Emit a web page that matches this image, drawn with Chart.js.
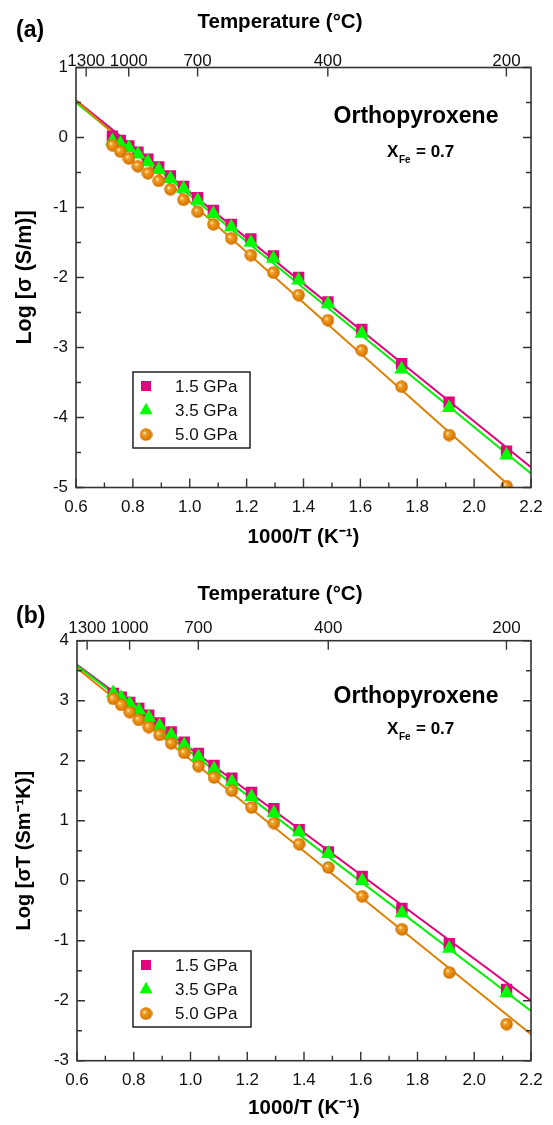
<!DOCTYPE html>
<html>
<head>
<meta charset="utf-8">
<script src="https://cdn.jsdelivr.net/npm/chart.js@4.4.1/dist/chart.umd.min.js"></script>
<style>
  html, body { margin: 0; padding: 0; background: #fff; }
  canvas { position: absolute; left: 0; }
</style>
</head>
<body>
<canvas id="panelA" width="553" height="560" style="top:0"></canvas>
<canvas id="panelB" width="553" height="565" style="top:560px"></canvas>
<script>
// 1000/T (K^-1) of the measurements
const invT = [0.728, 0.756, 0.786, 0.818, 0.853, 0.891, 0.932, 0.978, 1.028, 1.083,
              1.146, 1.215, 1.294, 1.383, 1.486, 1.605, 1.745, 1.912, 2.114];
const tempTicks = [1300, 1000, 700, 400, 200];
const pressures = ['1.5 GPa', '3.5 GPa', '5.0 GPa'];

// panel (a): log sigma
const logS_15 = [0.02, -0.04, -0.12, -0.21, -0.31, -0.42, -0.55, -0.70, -0.86, -1.04,
                 -1.24, -1.45, -1.69, -2.00, -2.35, -2.74, -3.23, -3.78, -4.48];
const logS_35 = [-0.05, -0.09, -0.15, -0.24, -0.35, -0.46, -0.59, -0.73, -0.90, -1.09,
                 -1.28, -1.50, -1.73, -2.04, -2.38, -2.80, -3.31, -3.86, -4.54];
const logS_50 = [-0.11, -0.20, -0.30, -0.41, -0.51, -0.62, -0.74, -0.89, -1.06, -1.24,
                 -1.44, -1.68, -1.93, -2.25, -2.61, -3.04, -3.56, -4.25, -4.98];

// panel (b): log sigmaT
const logST_15 = [3.12, 3.06, 2.97, 2.87, 2.76, 2.63, 2.48, 2.31, 2.12, 1.92,
                  1.71, 1.47, 1.20, 0.85, 0.48, 0.07, -0.46, -1.05, -1.81];
const logST_35 = [3.13, 3.05, 2.95, 2.84, 2.72, 2.58, 2.43, 2.26, 2.06, 1.86,
                  1.65, 1.40, 1.13, 0.81, 0.45, 0.00, -0.54, -1.13, -1.87];
const logST_50 = [3.03, 2.93, 2.81, 2.68, 2.56, 2.43, 2.29, 2.13, 1.91, 1.72,
                  1.50, 1.22, 0.96, 0.61, 0.22, -0.26, -0.81, -1.53, -2.39];

// fitted lines, ends at 1000/T = 0.6 and 2.2
const fitX = [0.6, 2.2];
const fitA_15 = [0.53, -4.71];
const fitA_35 = [0.50, -4.80];
const fitA_50 = [0.53, -5.25];
const fitB_15 = [3.60, -2.00];
const fitB_35 = [3.58, -2.17];
const fitB_50 = [3.54, -2.56];

const PINK = '#e4007f';
const GREEN = '#00f000';
const GREEN_PT = '#00ff00';
const ORANGE = '#e08000';
const FONT = '"Liberation Sans", Arial, sans-serif';

function makeSphere(d) {
  const c = document.createElement('canvas');
  c.width = c.height = d;
  const g = c.getContext('2d');
  const r = d / 2;
  const grad = g.createRadialGradient(r * 0.72, r * 0.72, 0.4, r, r, r);
  grad.addColorStop(0, '#fff4c0');
  grad.addColorStop(0.22, '#f0a232');
  grad.addColorStop(0.7, '#e38000');
  grad.addColorStop(1, '#c46800');
  g.fillStyle = grad;
  g.beginPath();
  g.arc(r, r, r - 0.3, 0, Math.PI * 2);
  g.fill();
  return c;
}
const sphere = makeSphere(13);

function pts(ys) { return invT.map((x, i) => ({ x: x, y: ys[i] })); }
function fit(ys) { return fitX.map((x, i) => ({ x: x, y: ys[i] })); }

function drawMarker(ctx, kind, x, y) {
  if (kind === 0) {
    ctx.fillStyle = PINK;
    ctx.fillRect(x - 5, y - 5, 10, 10);
  } else if (kind === 1) {
    ctx.fillStyle = GREEN_PT;
    ctx.beginPath();
    ctx.moveTo(x, y - 7.5);
    ctx.lineTo(x + 6.5, y + 4);
    ctx.lineTo(x - 6.5, y + 4);
    ctx.closePath();
    ctx.fill();
  } else {
    ctx.drawImage(sphere, x - 6.5, y - 6.5);
  }
}

// frame, inward ticks, annotations and legend
const decor = {
  id: 'decor',
  afterDatasetsDraw(chart, args, o) {
    const ctx = chart.ctx;
    const { left, right, top, bottom } = chart.chartArea;
    const xs = chart.scales.x, ys = chart.scales.y;
    ctx.save();
    ctx.strokeStyle = '#333';
    ctx.lineWidth = 1.6;
    ctx.strokeRect(left, top, right - left, bottom - top);
    ctx.lineWidth = 1.4;
    ctx.beginPath();
    for (let i = 0; i <= 16; i++) {
      const px = xs.getPixelForValue(0.6 + i * 0.1);
      const len = i % 2 === 0 ? 9 : 5;
      ctx.moveTo(px, bottom);
      ctx.lineTo(px, bottom - len);
    }
    tempTicks.forEach(t => {
      const px = xs.getPixelForValue(1000 / (t + 273.15));
      ctx.moveTo(px, top);
      ctx.lineTo(px, top + 9);
    });
    for (let v = ys.min; v <= ys.max + 1e-6; v += 0.5) {
      const py = ys.getPixelForValue(v);
      const len = Math.abs(v - Math.round(v)) < 1e-6 ? 8 : 5;
      ctx.moveTo(left, py); ctx.lineTo(left + len, py);
      ctx.moveTo(right, py); ctx.lineTo(right - len, py);
    }
    ctx.stroke();

    // panel letter and top axis title
    ctx.fillStyle = '#000';
    ctx.textBaseline = 'middle';
    ctx.textAlign = 'left';
    ctx.font = 'bold 23px ' + FONT;
    ctx.fillText(o.letter, 16, o.letterY);
    ctx.textAlign = 'center';
    ctx.font = 'bold 20.5px ' + FONT;
    ctx.fillText('Temperature (\u00B0C)', 280, o.topTitleY);

    // mineral name and composition
    ctx.font = 'bold 23px ' + FONT;
    ctx.fillText('Orthopyroxene', 416, o.nameY);
    ctx.textAlign = 'left';
    ctx.textBaseline = 'alphabetic';
    ctx.font = 'bold 17px ' + FONT;
    ctx.fillText('X', 387, o.xfeBase);
    ctx.font = 'bold 10px ' + FONT;
    ctx.fillText('Fe', 399, o.xfeBase + 6);
    ctx.font = 'bold 17px ' + FONT;
    ctx.fillText('= 0.7', 416, o.xfeBase);

    // legend
    const [bx, by, bw, bh] = o.legendBox;
    ctx.lineWidth = 1.5;
    ctx.strokeStyle = '#222';
    ctx.strokeRect(bx, by, bw, bh);
    ctx.font = '17px ' + FONT;
    ctx.textBaseline = 'middle';
    pressures.forEach((p, i) => {
      const ry = by + 14 + i * 24.3;
      drawMarker(ctx, i, bx + 13, ry);
      ctx.fillStyle = '#111';
      ctx.fillText(p, bx + 42, ry + 1);
    });
    ctx.restore();
  }
};

function makePanel(id, c) {
  const tickFont = { family: FONT, size: 17 };
  return new Chart(document.getElementById(id), {
    type: 'scatter',
    data: {
      datasets: [
        { data: fit(c.fits[0]), showLine: true, borderColor: PINK, borderWidth: 2, pointRadius: 0, order: 6 },
        { data: fit(c.fits[1]), showLine: true, borderColor: GREEN, borderWidth: 2, pointRadius: 0, order: 5 },
        { data: fit(c.fits[2]), showLine: true, borderColor: ORANGE, borderWidth: 2, pointRadius: 0, order: 4 },
        { label: pressures[0], data: pts(c.series[0]), pointStyle: 'rect', pointRadius: 8,
          backgroundColor: PINK, borderWidth: 0, order: 3 },
        { label: pressures[1], data: pts(c.series[1]), pointStyle: 'triangle', pointRadius: 8.5,
          backgroundColor: GREEN_PT, borderWidth: 0, order: 2 },
        { label: pressures[2], data: pts(c.series[2]), pointStyle: sphere, pointRadius: 6.5,
          backgroundColor: ORANGE, borderWidth: 0, order: 1 }
      ]
    },
    options: {
      responsive: false,
      animation: false,
      events: [],
      layout: { padding: { left: 0, right: 22, top: 0, bottom: 0 } },
      plugins: { legend: { display: false }, tooltip: { enabled: false }, decor: c.decor },
      scales: {
        x: {
          type: 'linear', position: 'bottom', min: 0.6, max: 2.2,
          grid: { display: false, drawTicks: false }, border: { display: false },
          ticks: { stepSize: 0.2, padding: 9.5, maxRotation: 0, autoSkip: false, font: tickFont, color: '#111',
                   callback: v => v.toFixed(1) },
          title: { display: true, text: '1000/T (K\u207B\u00B9)', font: { family: FONT, size: 20.5, weight: 'bold' },
                   color: '#000', padding: { top: 0, bottom: c.xTitlePad } },
          afterFit: s => { s.height = c.xHeight; }
        },
        x2: {
          type: 'linear', position: 'top', min: 0.6, max: 2.2,
          grid: { display: false, drawTicks: false }, border: { display: false },
          afterBuildTicks: s => { s.ticks = tempTicks.map(t => ({ value: 1000 / (t + 273.15) })); },
          ticks: { padding: c.topTickPad, maxRotation: 0, autoSkip: false, font: tickFont, color: '#111',
                   callback: (v, i) => String(tempTicks[i]) },
          title: { display: false },
          afterFit: s => { s.height = c.topHeight; }
        },
        y: {
          min: c.yMin, max: c.yMax,
          grid: { display: false, drawTicks: false }, border: { display: false },
          ticks: { stepSize: 1, padding: 8, font: tickFont, color: '#111', callback: v => String(v) },
          title: { display: true, text: c.yTitle, font: { family: FONT, size: c.yTitleSize, weight: 'bold' },
                   color: '#000', padding: { top: 12, bottom: 0 } },
          afterFit: s => { s.width = c.yWidth; }
        }
      }
    },
    plugins: [decor]
  });
}

makePanel('panelA', {
  series: [logS_15, logS_35, logS_50],
  fits: [fitA_15, fitA_35, fitA_50],
  yMin: -5, yMax: 1,
  yTitle: 'Log [\u03C3 (S/m)]', yTitleSize: 21.5,
  yWidth: 76, topHeight: 67.5, xHeight: 72.5,
  topTickPad: -4, xTitlePad: 10,
  decor: { letter: '(a)', letterY: 31, topTitleY: 22, nameY: 117, xfeBase: 157, legendBox: [133, 372, 117, 76] }
});

makePanel('panelB', {
  series: [logST_15, logST_35, logST_50],
  fits: [fitB_15, fitB_35, fitB_50],
  yMin: -3, yMax: 4,
  yTitle: 'Log [\u03C3T (Sm\u207B\u00B9K)]', yTitleSize: 20,
  yWidth: 77, topHeight: 80.7, xHeight: 64.3,
  topTickPad: 2.5, xTitlePad: 4,
  decor: { letter: '(b)', letterY: 57, topTitleY: 34, nameY: 137, xfeBase: 174, legendBox: [133, 391, 118, 76] }
});
</script>
</body>
</html>
